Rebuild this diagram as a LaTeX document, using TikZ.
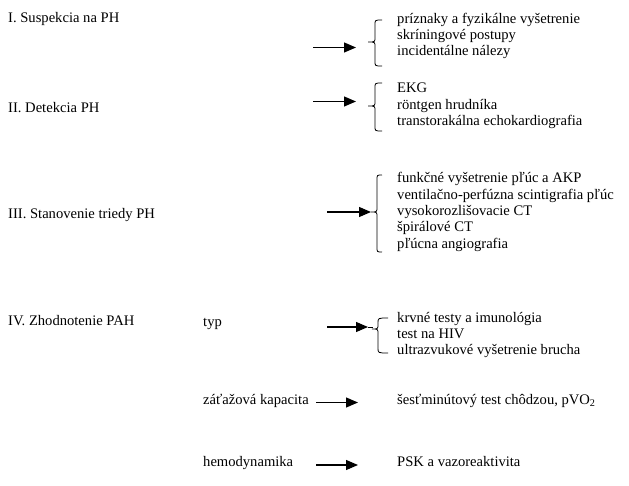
\documentclass[tikz,border=0pt]{standalone}
\usepackage{fontspec}
\setmainfont{Liberation Serif}
\usetikzlibrary{arrows.meta}
\newcommand\drawbrace[6]{% cusp x, vertical x, hook x, top, mid, bottom
  \draw[brc] (#3,#4) .. controls (#2,#4) .. (#2,#4+5) -- (#2,#5-5)
    .. controls (#2,#5) .. (#1,#5) .. controls (#2,#5) .. (#2,#5+5)
    -- (#2,#6-5) .. controls (#2,#6) .. (#3,#6);}
\begin{document}
\begin{tikzpicture}[x=1pt,y=-1pt,
  txt/.style={font=\fontsize{14.6}{16}\selectfont, inner sep=0pt, anchor=base west},
  conn/.style={line width=1.1pt, -{Triangle[length=12pt,width=10pt]}},
  brc/.style={line width=0.8pt}]
\useasboundingbox (0,0) rectangle (629,486);

% ---- I
\node[txt] (t1) at (8,23) {I. Suspekcia na PH};
\node[txt] (l11) at (397,24) {príznaky a fyzikálne vyšetrenie};
\node[txt] (l12) at (397,39.8) {skríningové postupy};
\node[txt] (l13) at (397,55.6) {incidentálne nálezy};
\coordinate (a1s) at (313,47.5);
\coordinate (a1e) at (356,47.5);
\draw[conn] (a1s) -- (a1e);
\drawbrace{368}{375}{382}{20}{42}{66}

% ---- II
\node[txt] (t2) at (8,112.5) {II. Detekcia PH};
\node[txt] (l21) at (397,93) {EKG};
\node[txt] (l22) at (397,109.3) {röntgen hrudníka};
\node[txt] (l23) at (397,125.6) {transtorakálna echokardiografia};
\coordinate (a2s) at (313,101.5);
\coordinate (a2e) at (356,101.5);
\draw[conn] (a2s) -- (a2e);
\drawbrace{368}{375}{382}{83}{106}{131}

% ---- III
\node[txt] (t3) at (8,219) {III. Stanovenie triedy PH};
\node[txt] (l31) at (397,183) {funkčné vyšetrenie pľúc a AKP};
\node[txt] (l32) at (397,199.3) {ventilačno-perfúzna scintigrafia pľúc};
\node[txt] (l33) at (397,215.6) {vysokorozlišovacie CT};
\node[txt] (l34) at (397,231.9) {špirálové CT};
\node[txt] (l35) at (397,248.2) {pľúcna angiografia};
\coordinate (a3s) at (327,212);
\coordinate (a3e) at (371,212);
\draw[conn] (a3s) -- (a3e);
\drawbrace{371}{377}{382}{175}{212}{252}

% ---- IV
\node[txt] (t4) at (8,325.5) {IV. Zhodnotenie PAH};
\node[txt] (m1) at (203,326.5) {typ};
\node[txt] (l41) at (397,322) {krvné testy a imunológia};
\node[txt] (l42) at (397,338.3) {test na HIV};
\node[txt] (l43) at (397,354.6) {ultrazvukové vyšetrenie brucha};
\coordinate (a4s) at (327,327);
\coordinate (a4e) at (368,327);
\draw[conn] (a4s) -- (a4e);
\draw[brc] (a4e) -- (373,327);
\drawbrace{372}{378}{388}{318}{329}{353}

\node[txt] (m2) at (203,404.5) {záťažová kapacita};
\node[txt] (l51) at (397,404.5) {šesťminútový test chôdzou, pVO\textsubscript{2}};
\coordinate (a5s) at (316,402.5);
\coordinate (a5e) at (358,402.5);
\draw[conn] (a5s) -- (a5e);

\node[txt] (m3) at (203,466.5) {hemodynamika};
\node[txt] (l61) at (397,466.5) {PSK a vazoreaktivita};
\coordinate (a6s) at (316,465);
\coordinate (a6e) at (358,465);
\draw[conn] (a6s) -- (a6e);
\end{tikzpicture}
\end{document}
